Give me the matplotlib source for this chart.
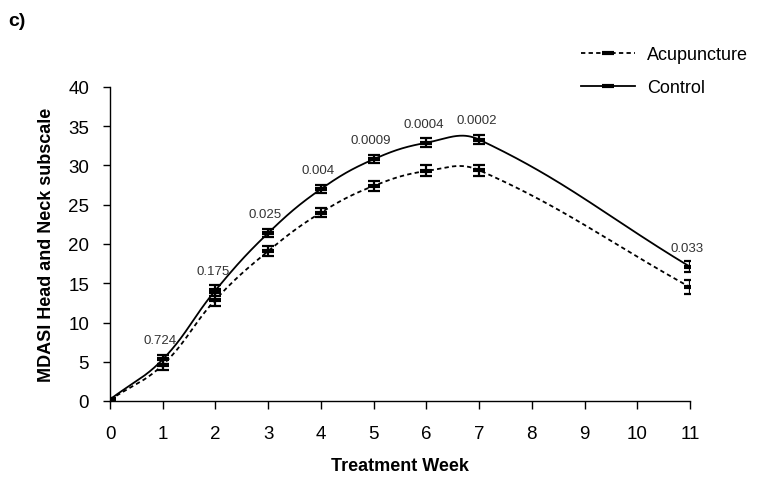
import numpy as np
import matplotlib
matplotlib.use("Agg")
import matplotlib.pyplot as plt
from matplotlib.lines import Line2D

plt.rcParams['font.family'] = ['Liberation Sans', 'DejaVu Sans']

weeks = [0, 1, 2, 3, 4, 5, 6, 7, 11]
control = [0.2, 5.3, 14.1, 21.4, 27.0, 30.8, 32.9, 33.3, 17.1]
control_err = [0.15, 0.6, 0.7, 0.5, 0.5, 0.5, 0.6, 0.6, 0.7]
acup = [0.15, 4.6, 12.9, 19.1, 24.0, 27.4, 29.3, 29.4, 14.5]
acup_err = [0.15, 0.7, 0.8, 0.6, 0.6, 0.6, 0.7, 0.7, 0.9]
pvals = ['', '0.724', '0.175', '0.025', '0.004', '0.0009', '0.0004', '0.0002', '0.033']
xticks = list(range(0, 12))
yticks = list(range(0, 41, 5))

fig = plt.figure(figsize=(7.6, 4.81), dpi=100)
ax = fig.add_axes([110/760, 1-402/481, 580/760, 314/481])
ax.set_xlim(0, 11)
ax.set_ylim(0, 40)


def excel_smooth(xs, ys, s=0.4, n=60):
    pts = ax.transData.transform(np.column_stack([xs, ys]))
    out = []
    m = len(pts)
    for i in range(m - 1):
        p0 = pts[max(i - 1, 0)]
        p1 = pts[i]
        p2 = pts[i + 1]
        p3 = pts[min(i + 2, m - 1)]
        d01 = np.linalg.norm(p1 - p0)
        d12 = np.linalg.norm(p2 - p1)
        d23 = np.linalg.norm(p3 - p2)
        c1 = p1 + (p2 - p0) * (d12 / (d01 + d12)) * s
        c2 = p2 - (p3 - p1) * (d12 / (d12 + d23)) * s
        t = np.linspace(0, 1, n)[:, None]
        seg = ((1 - t) ** 3) * p1 + 3 * ((1 - t) ** 2) * t * c1 + 3 * (1 - t) * t ** 2 * c2 + t ** 3 * p2
        out.append(seg if i == 0 else seg[1:])
    curve = np.vstack(out)
    data = ax.transData.inverted().transform(curve)
    return data[:, 0], data[:, 1]


cx, cy = excel_smooth(weeks, control)
axx, axy = excel_smooth(weeks, acup)
dash = (0, (2.4, 1.8))
ax.plot(axx, axy, color='black', lw=1.3, linestyle=dash, zorder=2)
ax.plot(cx, cy, color='black', lw=1.3, zorder=2)

for vals, errs in ((control, control_err), (acup, acup_err)):
    ax.errorbar(weeks, vals, yerr=errs, fmt='none', ecolor='black',
                elinewidth=1.6, capsize=4.4, capthick=1.6, zorder=3)
    ax.plot(weeks, vals, linestyle='none', marker='_', ms=8, mew=3,
            color='black', zorder=4)

for x, y, p in zip(weeks, control, pvals):
    if p:
        ax.annotate(p, (x, y), xytext=(-2, 9.5), textcoords='offset points',
                    ha='center', va='bottom', fontsize=9.5, color='#333333')

for sp in ('top', 'right'):
    ax.spines[sp].set_visible(False)
for sp in ('left', 'bottom'):
    ax.spines[sp].set_linewidth(1.0)
ax.set_xticks(xticks)
ax.set_yticks(yticks)
ax.tick_params(axis='x', direction='out', length=6, width=1, pad=11, labelsize=13.5)
ax.tick_params(axis='y', direction='out', length=5, width=1, pad=10, labelsize=13.5)

ax.set_xlabel('Treatment Week', fontsize=13, fontweight='bold')
ax.set_ylabel('MDASI Head and Neck subscale', fontsize=13, fontweight='bold')
ax.xaxis.set_label_coords(0.5, -0.178)
ax.yaxis.set_label_coords(-0.095, 0.5)

handles = [
    Line2D([], [], color='black', lw=1.3, linestyle=dash, marker='_', ms=8, mew=3),
    Line2D([], [], color='black', lw=1.3, marker='_', ms=8, mew=3),
]
fig.legend(handles, ['Acupuncture', 'Control'], loc='upper left',
           bbox_to_anchor=(581/760, 1-47/481), frameon=False, fontsize=13,
           handlelength=3.0, handletextpad=0.65, labelspacing=0.9,
           borderpad=0, borderaxespad=0)

fig.text(8/760, 1-21/481, 'c)', fontsize=14, fontweight='bold', va='center', ha='left')

fig.savefig('out.png', dpi=100)
